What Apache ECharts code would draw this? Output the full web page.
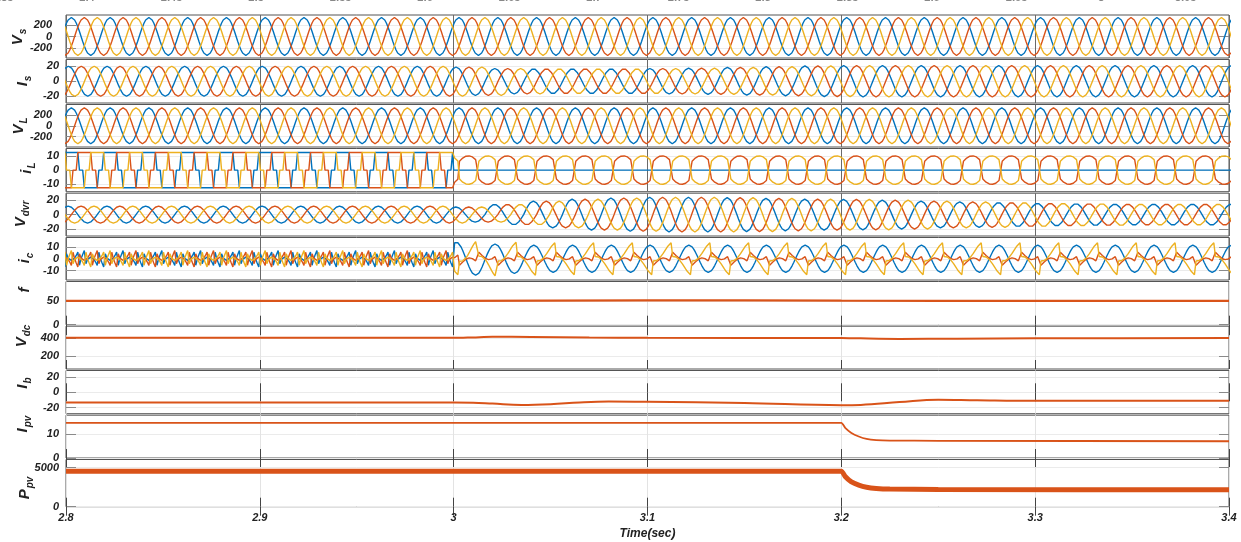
<!DOCTYPE html>
<html>
<head>
<meta charset="utf-8">
<script src="https://cdn.jsdelivr.net/npm/echarts@6/dist/echarts.min.js"></script>
<style>
html, body { margin: 0; padding: 0; background: #fff; }
#chart { width: 1241px; height: 542px; }
</style>
</head>
<body>
<div id="chart"></div>
<script>
// ---------- data ----------
var timeRange = [2.8, 3.4];
var cycleTime = 0.02;            // 50 Hz
// one cycle, 24 samples (15 deg apart)
var sineCycle = [0, 0.26, 0.5, 0.71, 0.87, 0.97, 1, 0.97, 0.87, 0.71, 0.5, 0.26,
                 0, -0.26, -0.5, -0.71, -0.87, -0.97, -1, -0.97, -0.87, -0.71, -0.5, -0.26];
var iLSixStepCycle = [0, 0, 1, 1, 1, 1, 1, 1, 1, 1, 1, 0,
                      0, 0, -1, -1, -1, -1, -1, -1, -1, -1, -1, 0];
var iLBulbCycle = [0.62, 0.75, 0.85, 0.93, 0.98, 1, 1, 0.98, 0.93, 0.85, 0.74, 0.64,
                   -0.62, -0.75, -0.85, -0.93, -0.98, -1, -1, -0.98, -0.93, -0.85, -0.74, -0.64];
var icPreCycle = [0, -0.51, -0.99, 0.6, 0.08, -0.12, -0.19, -0.12, 0.08, 0.4, 0.81, -0.79,
                  0, 0.51, 0.99, -0.6, -0.08, 0.12, 0.19, 0.12, -0.08, -0.4, -0.81, 0.79];
var icPostRedCycle = [-1, -0.76, -0.5, -0.27, -0.07, 0.06, 0.13, 0.1, 0.01, -0.15, -0.32, -0.58,
                      1, 0.76, 0.5, 0.27, 0.07, -0.06, -0.13, -0.1, -0.01, 0.15, 0.32, 0.58];
var icPostYellowCycle = [-0.14, -0.14, -0.11, -0.05, 0.05, 0.17, 0.32, 0.48, 0.64, 0.79, 0.9, 1,
                         0.14, 0.14, 0.11, 0.05, -0.05, -0.17, -0.32, -0.48, -0.64, -0.79, -0.9, -1];

// phase angle (deg) at t = 2.8 for blue, red, yellow
var vsPhase = [40, -80, 160];
var isPhase = [68, -52, 188];
var vlPhase = [40, -80, 160];
var vdvrPhase = [70, -50, 190];
var iLPrePhase = [40, -80, 160];
var iLPostPhase = [0, -54, 126];
var icPrePhase = [40, -80, 160];
var icPostPhase = [66, -54, -54];

// peak value per 20 ms cycle (2.8 ... 3.38)
var vsAmp = 335;
var vlAmp = 330;
var isAmp = [20, 20, 20, 20, 20, 20, 20, 20, 20, 20,
             19, 17, 16.5, 16.5, 16.5, 17, 17.5, 18.5, 19.5, 20.5,
             21, 21, 21, 21, 21, 21, 21, 21, 21, 21];
var vdvrAmp = [11.7, 11.7, 11.7, 11.7, 11.7, 11.7, 11.7, 11.7, 11.7, 11.7,
               10.5, 14, 18.5, 21.5, 23, 24, 24, 23.5, 22.5, 21.5,
               21, 20, 18.5, 17.5, 16.5, 15.5, 15, 14.5, 14.5, 14.5];
var iLPreAmp = 12.6;
var iLPostAmp = 10.1;
var icPreAmp = 7;
var icBluePostAmp = [11.5, 11.5, 11.5, 11.5, 11.5, 11.5, 11.5, 11.5, 11.5, 11.5,
                     14, 12.5, 11.5, 11.5, 11.5, 11.5, 11.5, 11.5, 11.5, 11.5,
                     11.5, 11.5, 11.5, 11.5, 11.5, 11.5, 11.5, 11.5, 11.5, 11.5];
var icRedPostAmp = 5.5;
var icYellowPostAmp = [13.5, 13.5, 13.5, 13.5, 13.5, 13.5, 13.5, 13.5, 13.5, 13.5,
                       16, 14, 13.5, 13.5, 13.5, 13.5, 13.5, 13.5, 13.5, 13.5,
                       13.5, 13.5, 13.5, 13.5, 13.5, 13.5, 13.5, 13.5, 13.5, 13.5];

// slow signals
var fTime = [2.8, 3.0, 3.05, 3.1, 3.15, 3.2, 3.25, 3.4];
var fVal = [50, 50, 50.6, 51, 50.8, 50.3, 50, 50];
var vdcTime = [2.8, 3.0, 3.01, 3.02, 3.04, 3.07, 3.1, 3.2, 3.21, 3.23, 3.26, 3.3, 3.4];
var vdcVal = [406, 406, 411, 417, 416, 410, 406, 405, 400, 394, 396, 401, 403];
var ibTime = [2.8, 3.0, 3.01, 3.02, 3.035, 3.05, 3.065, 3.08, 3.1, 3.15, 3.2, 3.21, 3.23, 3.25, 3.27, 3.3, 3.4];
var ibVal = [-13.4, -13.4, -13.6, -14.8, -16.6, -15.6, -13.2, -12, -12.5, -14, -16.8, -16.5, -12.8, -9.6, -10.4, -11.2, -11.2];
var pvTime = [2.8, 3.2, 3.202, 3.205, 3.209, 3.213, 3.218, 3.225, 3.25, 3.4];
var ipvVal = [14.7, 14.7, 12.6, 10.6, 9.0, 8.0, 7.5, 7.3, 7.2, 7.0];
var ppvVal = [4530, 4530, 3850, 3200, 2750, 2480, 2330, 2250, 2200, 2160];

// axes
var yRanges = [[-380, 380], [-29, 29], [-390, 390], [-15.4, 15.4], [-29.6, 29.6], [-18, 18],
               [0, 90.5], [55, 537], [-28, 28.5], [0, 17.9], [0, 6030]];
var yTicks = [[-200, 0, 200], [-20, 0, 20], [-200, 0, 200], [-10, 0, 10], [-20, 0, 20], [-10, 0, 10],
              [0, 50], [200, 400], [-20, 0, 20], [0, 10], [0, 5000]];
var yNames = [['V', 's'], ['I', 's'], ['V', 'L'], ['i', 'L'], ['V', 'dvr'], ['i', 'c'],
              ['f', ''], ['V', 'dc'], ['I', 'b'], ['I', 'pv'], ['P', 'pv']];
var topCutLabels = ['2.35', '2.4', '2.45', '2.5', '2.55', '2.6', '2.65', '2.7', '2.75', '2.8', '2.85', '2.9', '2.95', '3', '3.05'];

// ---------- layout ----------
var panelEdges = [14.5, 59, 104, 148, 192.7, 237, 281, 325.7, 370, 414.7, 459, 507.7];
var labelMargins = [14, 7, 14, 7, 7, 7, 7, 7, 7, 7, 7];
var nameCenters = [[18, 37], [23, 81], [19, 126], [27, 168], [21, 214], [25, 258],
                   [25, 290], [22, 336], [23, 383], [23, 424], [25, 488]];
var waveColors = ['#0072BD', '#D95319', '#EDB120'];
var slowColor = '#D95319';

function wave(shape, phase, amp, from, to) {
  var n = shape.length, step = 360 / n, degPerSec = 360 / cycleTime;
  var pts = [];
  var k = Math.floor(((from - timeRange[0]) * degPerSec + phase) / step) - 1;
  for (var g = 0; g < 5000; g++, k++) {
    var t = timeRange[0] + (k * step - phase) / degPerSec;
    if (t < from - 1e-9) continue;
    if (t > to + 1e-9) break;
    var a = amp;
    if (Array.isArray(amp)) {
      var c = Math.floor(k / n);
      var tMid = timeRange[0] + ((c + 0.5) * 360 - phase) / degPerSec;
      var ci = Math.max(0, Math.min(amp.length - 1, Math.floor((tMid - timeRange[0]) / cycleTime)));
      a = amp[ci];
    }
    pts.push([t, shape[((k % n) + n) % n] * a]);
  }
  return pts;
}

function pairs(times, vals) {
  var out = [];
  for (var i = 0; i < times.length; i++) out.push([times[i], vals[i]]);
  return out;
}

var tA = timeRange[0] - 0.004, tB = timeRange[1] + 0.004, tSwitch = 3.0;
var panelSeries = [
  [0, 1, 2].map(function (p) { return wave(sineCycle, vsPhase[p], vsAmp, tA, tB); }),
  [0, 1, 2].map(function (p) { return wave(sineCycle, isPhase[p], isAmp, tA, tB); }),
  [0, 1, 2].map(function (p) { return wave(sineCycle, vlPhase[p], vlAmp, tA, tB); }),
  [
    wave(iLSixStepCycle, iLPrePhase[0], iLPreAmp, tA, tSwitch).concat([[tSwitch, 0], [tB, 0]]),
    wave(iLSixStepCycle, iLPrePhase[1], iLPreAmp, tA, tSwitch).concat(wave(iLBulbCycle, iLPostPhase[1], iLPostAmp, tSwitch, tB)),
    wave(iLSixStepCycle, iLPrePhase[2], iLPreAmp, tA, tSwitch).concat(wave(iLBulbCycle, iLPostPhase[2], iLPostAmp, tSwitch, tB))
  ],
  [0, 1, 2].map(function (p) { return wave(sineCycle, vdvrPhase[p], vdvrAmp, tA, tB); }),
  [
    wave(icPreCycle, icPrePhase[0], icPreAmp, tA, tSwitch).concat(wave(sineCycle, icPostPhase[0], icBluePostAmp, tSwitch, tB)),
    wave(icPreCycle, icPrePhase[1], icPreAmp, tA, tSwitch).concat(wave(icPostRedCycle, icPostPhase[1], icRedPostAmp, tSwitch, tB)),
    wave(icPreCycle, icPrePhase[2], icPreAmp, tA, tSwitch).concat(wave(icPostYellowCycle, icPostPhase[2], icYellowPostAmp, tSwitch, tB))
  ],
  [pairs(fTime, fVal)],
  [pairs(vdcTime, vdcVal)],
  [pairs(ibTime, ibVal)],
  [pairs(pvTime, ipvVal)],
  [pairs(pvTime, ppvVal)]
];
var slowWidths = [2.2, 2, 2, 1.8, 5];
var slowSmooth = [false, 0.3, 0.4, 0.2, 0.2];

var labelFont = { fontFamily: 'Liberation Sans', fontWeight: 'bold', fontStyle: 'italic', fontSize: 11, color: '#222' };

var grids = [], xAxes = [], yAxes = [], series = [], graphics = [];
for (var i = 0; i < 11; i++) {
  var upper = i < 6;
  grids.push({
    left: 66, right: 12, top: panelEdges[i] + 0.5, height: panelEdges[i + 1] - panelEdges[i] - 1.5,
    show: true, borderColor: '#555', borderWidth: 1
  });
  xAxes.push({
    gridIndex: i, type: 'value', min: timeRange[0], max: timeRange[1], interval: 0.1,
    axisLine: { show: false },
    axisTick: { show: !upper, inside: true, length: 9, lineStyle: { color: '#444' } },
    axisLabel: Object.assign({
      show: i === 10, margin: 6,
      formatter: function (v) { return String(+v.toFixed(2)); }
    }, labelFont),
    splitLine: { show: true, lineStyle: { color: upper ? '#6a6a6a' : '#e3e3e3', width: 1 } },
    name: i === 10 ? 'Time(sec)' : '', nameLocation: 'middle', nameGap: 21,
    nameTextStyle: { fontFamily: 'Liberation Sans', fontWeight: 'bold', fontStyle: 'italic', fontSize: 12, color: '#222' }
  });
  xAxes.push({
    gridIndex: i, type: 'value', position: 'top', min: timeRange[0], max: timeRange[1], interval: 0.1,
    axisLine: { show: false },
    axisTick: { show: !upper, inside: true, length: 9, lineStyle: { color: '#444' } },
    axisLabel: { show: false }, splitLine: { show: false }
  });
  yAxes.push({
    gridIndex: i, type: 'value', min: yRanges[i][0], max: yRanges[i][1],
    axisLine: { show: false },
    axisTick: { show: true, inside: true, length: 10, customValues: yTicks[i].slice(), lineStyle: { color: '#8a8a8a' } },
    axisLabel: Object.assign({
      customValues: yTicks[i].slice(), margin: labelMargins[i],
      formatter: function (v) { return String(v); }
    }, labelFont),
    splitLine: { show: true, lineStyle: { color: '#ebebeb', width: 1 } }
  });
  yAxes.push({
    gridIndex: i, type: 'value', position: 'right', min: yRanges[i][0], max: yRanges[i][1],
    axisLine: { show: false },
    axisTick: { show: true, inside: true, length: 10, customValues: yTicks[i].slice(), lineStyle: { color: '#8a8a8a' } },
    axisLabel: { show: false, customValues: yTicks[i].slice() }, splitLine: { show: false }
  });

  var lines = panelSeries[i];
  for (var p = 0; p < lines.length; p++) {
    var color = lines.length > 1 ? waveColors[p] : slowColor;
    series.push({
      type: 'line', xAxisIndex: 2 * i, yAxisIndex: 2 * i, data: lines[p],
      showSymbol: false, symbol: 'none', clip: true, silent: true,
      smooth: lines.length > 1 ? false : slowSmooth[i - 6],
      lineStyle: { color: color, width: lines.length > 1 ? 1.4 : slowWidths[i - 6] },
      itemStyle: { color: color }
    });
  }

  graphics.push({
    type: 'text', x: nameCenters[i][0], y: nameCenters[i][1], rotation: Math.PI / 2,
    style: {
      text: '{m|' + yNames[i][0] + '}' + (yNames[i][1] ? '{s|' + yNames[i][1] + '}' : ''),
      align: 'center', verticalAlign: 'middle',
      rich: {
        m: { fontSize: 15, fontWeight: 'bold', fontStyle: 'italic', fontFamily: 'Liberation Sans', fill: '#222' },
        s: { fontSize: 10, fontWeight: 'bold', fontStyle: 'italic', fontFamily: 'Liberation Sans', fill: '#222', padding: [10, 0, 0, 1] }
      }
    }
  });
}

// tick labels of the figure above, cut off by the crop
topCutLabels.forEach(function (txt, j) {
  graphics.push({
    type: 'text', x: 3 + j * 84.5, y: 3,
    style: { text: txt, align: 'center', verticalAlign: 'bottom', fontSize: 11, fontWeight: 'bold', fontStyle: 'italic', fontFamily: 'Liberation Sans', fill: '#888' }
  });
});

var chart = echarts.init(document.getElementById('chart'));
chart.setOption({
  animation: false,
  backgroundColor: '#fff',
  grid: grids,
  xAxis: xAxes,
  yAxis: yAxes,
  series: series,
  graphic: graphics
});
</script>
</body>
</html>
